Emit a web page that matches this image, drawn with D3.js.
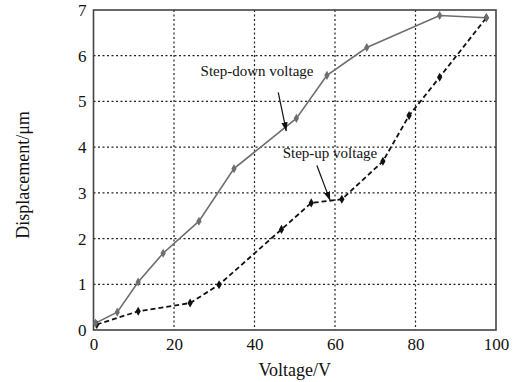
<!DOCTYPE html>
<html>
<head>
<meta charset="utf-8">
<script src="https://cdn.jsdelivr.net/npm/d3@7"></script>
<style>
  body { margin: 0; background: #fff; }
  svg text { font-family: "Liberation Serif", "Times New Roman", serif; }
</style>
</head>
<body>
<div id="chart"></div>
<script>
  var xTicks = [0, 20, 40, 60, 80, 100];
  var yTicks = [0, 1, 2, 3, 4, 5, 6, 7];

  // step-down branch (solid grey)
  var downVolt = [0.5, 5.9, 11.1, 17.3, 26.2, 34.9, 50.4, 58.0, 67.9, 86.0, 97.6];
  var downDisp = [0.15, 0.39, 1.05, 1.68, 2.38, 3.53, 4.63, 5.57, 6.18, 6.88, 6.83];

  // step-up branch (dashed black)
  var upVolt = [0.8, 11.1, 24.0, 31.2, 46.7, 54.1, 61.7, 71.9, 78.4, 86.0, 97.6];
  var upDisp = [0.12, 0.41, 0.59, 0.99, 2.2, 2.78, 2.86, 3.69, 4.69, 5.53, 6.83];

  var serif = '"Liberation Serif", "Times New Roman", serif';
  var margin = {top: 10, right: 22, bottom: 52, left: 93.5};
  var width = 518 - margin.left - margin.right;
  var height = 382 - margin.top - margin.bottom;

  var svg = d3.select("#chart").append("svg")
    .attr("width", 518).attr("height", 382)
    .append("g").attr("transform", "translate(" + margin.left + "," + margin.top + ")");

  var x = d3.scaleLinear().domain([0, 100]).range([0, width]);
  var y = d3.scaleLinear().domain([0, 7]).range([height, 0]);

  // grid
  svg.append("g").selectAll("line").data(xTicks.slice(1, -1)).enter().append("line")
    .attr("x1", function(d) { return x(d); }).attr("x2", function(d) { return x(d); })
    .attr("y1", 0).attr("y2", height)
    .attr("stroke", "#222").attr("stroke-width", 1.2).attr("stroke-dasharray", "2,2.5");
  svg.append("g").selectAll("line").data(yTicks.slice(1, -1)).enter().append("line")
    .attr("y1", function(d) { return y(d); }).attr("y2", function(d) { return y(d); })
    .attr("x1", 0).attr("x2", width)
    .attr("stroke", "#222").attr("stroke-width", 1.2).attr("stroke-dasharray", "2,2.5");

  // axes
  var xAxis = svg.append("g").attr("transform", "translate(0," + height + ")")
    .call(d3.axisBottom(x).tickValues(xTicks).tickFormat(d3.format("d")).tickSize(0).tickPadding(8));
  var yAxis = svg.append("g")
    .call(d3.axisLeft(y).tickValues(yTicks).tickFormat(d3.format("d")).tickSize(0).tickPadding(7));
  [xAxis, yAxis].forEach(function(a) {
    a.attr("font-family", serif).attr("font-size", 17);
    a.select(".domain").remove();
    a.selectAll("text").attr("fill", "#111");
  });

  svg.append("rect").attr("width", width).attr("height", height)
    .attr("fill", "none").attr("stroke", "#444").attr("stroke-width", 1.6);

  var downData = downVolt.map(function(v, i) { return {v: v, d: downDisp[i]}; });
  var upData = upVolt.map(function(v, i) { return {v: v, d: upDisp[i]}; });

  var line = d3.line().x(function(p) { return x(p.v); }).y(function(p) { return y(p.d); });

  svg.append("path").datum(upData).attr("d", line)
    .attr("fill", "none").attr("stroke", "#111").attr("stroke-width", 1.8)
    .attr("stroke-dasharray", "5,3");
  svg.append("path").datum(downData).attr("d", line)
    .attr("fill", "none").attr("stroke", "#6e6e6e").attr("stroke-width", 1.6);

  var sym = d3.symbol().type(d3.symbolDiamond).size(24);
  svg.append("g").selectAll("path").data(upData).enter().append("path")
    .attr("d", sym).attr("fill", "#111")
    .attr("transform", function(p) { return "translate(" + x(p.v) + "," + y(p.d) + ")"; });
  svg.append("g").selectAll("path").data(downData).enter().append("path")
    .attr("d", sym).attr("fill", "#6e6e6e")
    .attr("transform", function(p) { return "translate(" + x(p.v) + "," + y(p.d) + ")"; });

  // annotations
  var defs = svg.append("defs");
  defs.append("marker").attr("id", "arr").attr("viewBox", "0 0 10 10")
    .attr("refX", 10).attr("refY", 5).attr("markerWidth", 9).attr("markerHeight", 9)
    .attr("markerUnits", "userSpaceOnUse").attr("orient", "auto")
    .append("path").attr("d", "M0,1.5 L10,5 L0,8.5 Z").attr("fill", "#111");

  svg.append("text").attr("x", x(26.6)).attr("y", y(5.55))
    .attr("font-size", 15).attr("fill", "#111").text("Step-down voltage");
  svg.append("line")
    .attr("x1", x(45.9)).attr("y1", y(5.2)).attr("x2", x(47.9)).attr("y2", y(4.35))
    .attr("stroke", "#111").attr("stroke-width", 1.2).attr("marker-end", "url(#arr)");

  svg.append("text").attr("x", x(47.0)).attr("y", y(3.76))
    .attr("font-size", 15).attr("fill", "#111").text("Step-up voltage");
  svg.append("line")
    .attr("x1", x(55.5)).attr("y1", y(3.6)).attr("x2", x(58.8)).attr("y2", y(2.83))
    .attr("stroke", "#111").attr("stroke-width", 1.2).attr("marker-end", "url(#arr)");

  // titles
  svg.append("text").attr("x", width / 2).attr("y", height + 46)
    .attr("text-anchor", "middle").attr("font-size", 18).attr("fill", "#111").text("Voltage/V");
  svg.append("text").attr("transform", "translate(" + (-65) + "," + (height / 2 + 5) + ") rotate(-90)")
    .attr("text-anchor", "middle").attr("font-size", 18).attr("fill", "#111").text("Displacement/\u03bcm");
</script>
</body>
</html>
